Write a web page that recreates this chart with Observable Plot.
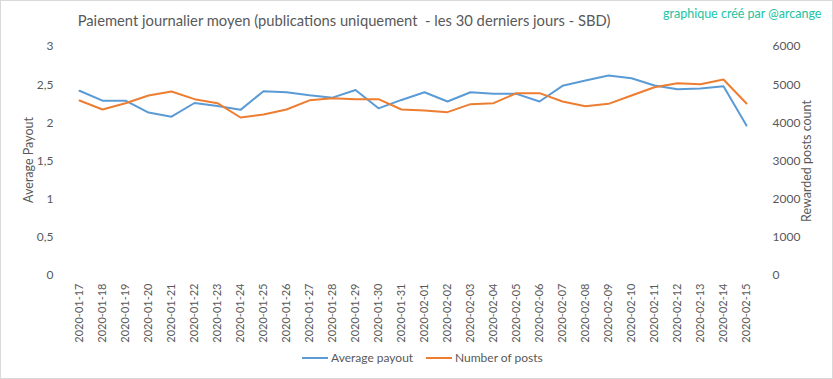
<!DOCTYPE html>
<html>
<head>
<meta charset="utf-8">
<script src="https://cdn.jsdelivr.net/npm/d3@7"></script>
<script src="https://cdn.jsdelivr.net/npm/@observablehq/plot@0.6"></script>
<style>
  html, body { margin: 0; padding: 0; background: #fff; }
  #wrap { position: relative; width: 833px; height: 379px; font-family: Lato, "Open Sans", sans-serif; color: #595959; overflow: hidden; }
  #frame { position: absolute; left: 0; top: 0; width: 831px; height: 377px; border: 1px solid #d9d9d9; pointer-events: none; }
  #chart { position: absolute; left: 0; top: 0; }
  .abs { position: absolute; white-space: nowrap; }
  #title { left: 344px; top: 11px; transform: translateX(-50%); font-size: 14.75px; }
  #credit { left: 663px; top: 6px; font-size: 12.5px; color: #22c3a1; }
  .ytitle { font-size: 12.5px; transform: translate(-50%, -50%) rotate(-90deg); }
  .leg { top: 350px; font-size: 12px; display: flex; align-items: center; }
  .leg span.sw { display: inline-block; width: 26px; height: 2px; margin-right: 3px; }
</style>
</head>
<body>
<div id="wrap">
  <div id="chart"></div>
  <div id="title" class="abs">Paiement journalier moyen (publications uniquement&nbsp; - les 30 derniers jours - SBD)</div>
  <div id="credit" class="abs">graphique créé par @arcange</div>
  <div class="abs ytitle" style="left:28px; top:160px;">Average Payout</div>
  <div class="abs ytitle" style="left:806px; top:161px;">Rewarded posts count</div>
  <div class="abs leg" style="left:302px;"><span class="sw" style="background:#5B9BD5"></span>Average payout</div>
  <div class="abs leg" style="left:426px;"><span class="sw" style="background:#ED7D31"></span>Number of posts</div>
  <div id="frame"></div>
</div>
<script>
const dates = [
  "2020-01-17","2020-01-18","2020-01-19","2020-01-20","2020-01-21","2020-01-22","2020-01-23","2020-01-24",
  "2020-01-25","2020-01-26","2020-01-27","2020-01-28","2020-01-29","2020-01-30","2020-01-31","2020-02-01",
  "2020-02-02","2020-02-03","2020-02-04","2020-02-05","2020-02-06","2020-02-07","2020-02-08","2020-02-09",
  "2020-02-10","2020-02-11","2020-02-12","2020-02-13","2020-02-14","2020-02-15"
];
const averagePayout = [
  2.42, 2.29, 2.29, 2.135, 2.08, 2.26, 2.22, 2.17,
  2.415, 2.40, 2.36, 2.33, 2.43, 2.19, 2.30, 2.40,
  2.28, 2.40, 2.38, 2.38, 2.28, 2.485, 2.555, 2.62,
  2.585, 2.49, 2.44, 2.45, 2.48, 1.965
];
const numberOfPosts = [
  4585, 4349, 4515, 4716, 4821, 4620, 4515, 4140,
  4218, 4349, 4590, 4646, 4620, 4620, 4349, 4323,
  4280, 4489, 4515, 4777, 4777, 4559, 4436, 4497,
  4716, 4934, 5039, 5013, 5135, 4506
];
const leftTicks = [0, 0.5, 1, 1.5, 2, 2.5, 3];
const rightTickLabels = ["0", "1000", "2000", "3000", "4000", "5000", "6000"];
const postsScale = 2000; // right axis max 6000 maps onto left axis max 3

const data = dates.map((d, i) => ({date: d, payout: averagePayout[i], posts: numberOfPosts[i]}));

const chart = Plot.plot({
  width: 833,
  height: 379,
  marginTop: 46,
  marginBottom: 104,
  marginLeft: 65,
  marginRight: 74,
  style: {fontFamily: "Lato, 'Open Sans', sans-serif", fontSize: "11px", color: "#595959", background: "transparent"},
  x: {type: "point", domain: dates, padding: 0.5},
  y: {domain: [0, 3]},
  marks: [
    Plot.gridY(leftTicks, {stroke: "#d9d9d9", strokeOpacity: 1, x1: 64, x2: 762}),
    Plot.axisX({tickSize: 0, tickRotate: -90, tickPadding: 8, fontSize: 11, label: null}),
    Plot.axisY(leftTicks, {anchor: "left", tickSize: 0, tickPadding: 12, fontSize: 12, label: null,
      tickFormat: d => String(d).replace(".", ",")}),
    Plot.axisY(leftTicks, {anchor: "right", tickSize: 0, tickPadding: 13, fontSize: 12, label: null,
      tickFormat: d => rightTickLabels[leftTicks.indexOf(d)]}),
    Plot.line(data, {x: "date", y: "payout", stroke: "#5B9BD5", strokeWidth: 2}),
    Plot.line(data, {x: "date", y: d => d.posts / postsScale, stroke: "#ED7D31", strokeWidth: 2})
  ]
});
document.getElementById("chart").appendChild(chart);
</script>
</body>
</html>
